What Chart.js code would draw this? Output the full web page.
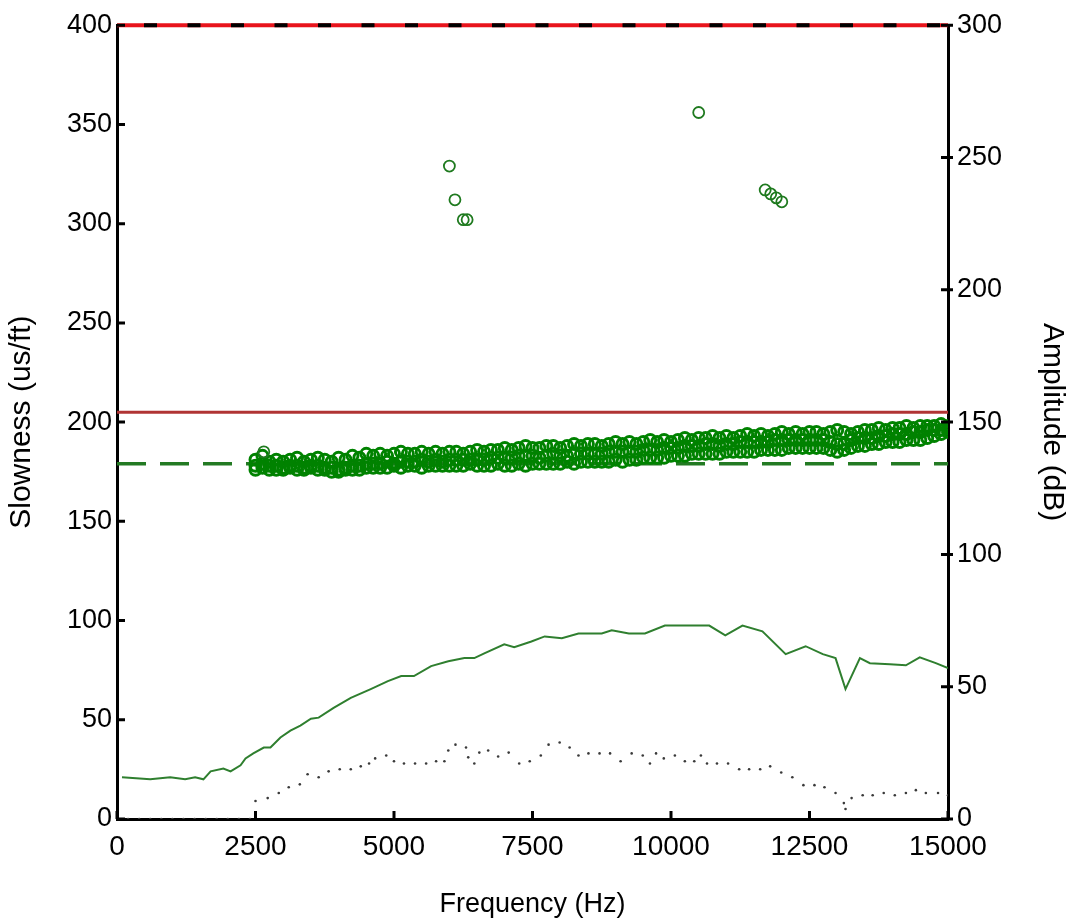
<!DOCTYPE html>
<html lang="en">
<head>
<meta charset="utf-8">
<title>Slowness dispersion</title>
<script src="https://cdn.jsdelivr.net/npm/chart.js"></script>
<style>
  body { margin: 0; background: #fff; }
  #wrap { width: 1074px; height: 921px; position: relative; }
</style>
</head>
<body>
<div id="wrap"><canvas id="dispChart"></canvas></div>
<script>
// axis ticks
const freqTicks = [0, 2500, 5000, 7500, 10000, 12500, 15000];
const slowTicks = [0, 50, 100, 150, 200, 250, 300, 350, 400];
const ampTicks = [0, 50, 100, 150, 200, 250, 300];

// horizontal reference lines (us/ft)
const topSlow = 400;
const fluidSlow = 205;
const shearSlow = 179;

// dispersion picks - dense band, three rows
const bandFreq = [2500, 2625, 2750, 2875, 3000, 3125, 3250, 3375, 3500, 3625, 3750, 3875, 4000, 4125, 4250, 4375, 4500,
  4625, 4750, 4875, 5000, 5125, 5250, 5375, 5500, 5625, 5750, 5875, 6000, 6125, 6250, 6375, 6500,
  6625, 6750, 6875, 7000, 7125, 7250, 7375, 7500, 7625, 7750, 7875, 8000, 8125, 8250, 8375, 8500,
  8625, 8750, 8875, 9000, 9125, 9250, 9375, 9500, 9625, 9750, 9875, 10000, 10125, 10250, 10375, 10500,
  10625, 10750, 10875, 11000, 11125, 11250, 11375, 11500, 11625, 11750, 11875, 12000, 12125, 12250, 12375, 12500,
  12625, 12750, 12875, 13000, 13125, 13250, 13375, 13500, 13625, 13750, 13875, 14000, 14125, 14250, 14375, 14500,
  14625, 14750, 14875, 15000];
const bandUpper = [181, 183, 180, 181, 180, 181, 182, 180, 181, 182, 181, 180, 182, 181, 183, 182, 184,
  183, 184, 183, 184, 185, 184, 184, 185, 184, 185, 184, 185, 185, 184, 185, 186,
  185, 186, 186, 187, 186, 187, 188, 187, 187, 188, 188, 187, 188, 189, 188, 189,
  189, 188, 189, 190, 189, 190, 189, 190, 191, 190, 191, 190, 191, 192, 191, 192,
  192, 193, 192, 193, 192, 193, 194, 193, 194, 193, 194, 195, 194, 195, 194, 195,
  195, 194, 195, 196, 195, 194, 195, 196, 196, 197, 196, 197, 197, 198, 197, 198,
  198, 198, 199, 198];
const bandMid = [178, 179, 178, 178, 177, 178, 178, 177, 178, 178, 177, 177, 176, 177, 178, 178, 179,
  179, 179, 180, 179, 180, 180, 180, 181, 180, 181, 180, 181, 181, 181, 181, 181,
  181, 182, 182, 182, 182, 183, 183, 183, 182, 183, 184, 183, 183, 184, 184, 184,
  184, 184, 185, 185, 185, 185, 185, 186, 186, 186, 187, 187, 187, 188, 188, 188,
  189, 189, 188, 189, 189, 190, 190, 190, 190, 190, 191, 191, 191, 191, 191, 191,
  191, 191, 190, 189, 189, 191, 192, 192, 192, 193, 193, 194, 194, 194, 195, 195,
  196, 196, 196, 197];
const bandLower = [176, 177, 176, 176, 176, 177, 176, 176, 177, 176, 176, 175, 175, 176, 176, 176, 177,
  177, 177, 177, 178, 177, 178, 178, 177, 178, 178, 178, 178, 178, 178, 179, 178,
  178, 178, 179, 178, 178, 179, 178, 179, 179, 179, 179, 179, 180, 179, 180, 180,
  180, 180, 180, 181, 180, 181, 181, 182, 182, 182, 182, 183, 183, 183, 184, 184,
  184, 184, 184, 185, 185, 185, 185, 185, 186, 186, 186, 186, 187, 187, 187, 187,
  187, 187, 186, 185, 186, 187, 188, 188, 189, 189, 190, 190, 190, 191, 191, 191,
  192, 193, 194, 195];

// stray picks
const strayFreq = [2650, 6000, 6100, 6250, 6320, 10500, 11700, 11800, 11900, 12000];
const straySlow = [185, 329, 312, 302, 302, 356, 317, 315, 313, 311];

// amplitude spectrum (dB)
const ampFreq = [90, 600, 960, 1230, 1410, 1560, 1690, 1920, 2050, 2230, 2320, 2460, 2650, 2770, 2950, 3130, 3310,
  3500, 3640, 3910, 4220, 4580, 4890, 5130, 5360, 5670, 5980, 6270, 6450, 6630, 6990, 7170, 7480, 7720,
  8030, 8330, 8750, 8930, 9240, 9530, 9890, 10690, 10980, 11290, 11650, 12070, 12430, 12740, 12970,
  13150, 13410, 13590, 13950, 14240, 14490, 14780, 15000];
const ampDb = [15.8, 15.0, 15.8, 15.0, 15.8, 15.0, 18.0, 19.1, 18.0, 20.3, 22.9, 24.8, 27.0, 27.0, 30.8, 33.4, 35.3,
  37.9, 38.3, 42.0, 45.8, 49.1, 52.1, 54.0, 54.0, 57.8, 59.6, 60.8, 60.8, 62.6, 66.0, 64.9, 67.1, 69.0,
  68.3, 70.1, 70.1, 71.3, 70.1, 70.1, 73.1, 73.1, 69.4, 73.1, 70.9, 62.3, 65.3, 62.3, 60.8,
  49.1, 60.8, 58.9, 58.5, 58.1, 61.1, 58.9, 57.0];

// noise spectrum (dB), dotted
const noiseFreq = [0, 200, 400, 600, 800, 1000, 1200, 1400, 1600, 1800, 2000, 2200, 2400,
  2500, 2720, 2920, 3100, 3300, 3440, 3640, 3820, 4020, 4220, 4400, 4550, 4660, 4860, 5000, 5180, 5380,
  5580, 5760, 5910, 5980, 6110, 6300, 6340, 6450, 6540, 6700, 6880, 7070, 7260, 7450, 7650, 7790, 7990,
  8170, 8330, 8510, 8710, 8900, 9090, 9290, 9490, 9620, 9730, 9870, 10070, 10250, 10420, 10540, 10650,
  10830, 11030, 11230, 11410, 11610, 11790, 11990, 12190, 12390, 12590, 12770, 12970, 13120, 13150,
  13260, 13460, 13640, 13840, 14040, 14240, 14420, 14600, 14820, 15000];
const noiseDb = [0, 0, 0, 0, 0, 0, 0, 0, 0, 0, 0, 0, 0,
  6.8, 7.9, 9.8, 12.0, 13.1, 16.9, 15.8, 18.0, 18.8, 18.8, 19.9, 21.0, 22.9, 24.0, 21.8, 21.0, 21.0,
  21.0, 21.8, 21.8, 25.9, 28.1, 27.0, 23.3, 21.0, 25.1, 25.9, 23.6, 25.1, 21.0, 21.8, 24.0, 28.1, 28.9,
  27.0, 24.0, 24.8, 24.8, 24.8, 21.8, 24.8, 24.0, 21.0, 24.8, 22.9, 24.0, 21.8, 21.8, 24.0, 21.0,
  21.0, 21.0, 18.8, 18.8, 18.8, 19.9, 17.6, 15.8, 12.8, 12.8, 12.0, 9.8, 6.0, 3.8,
  7.9, 9.0, 9.0, 9.8, 9.0, 9.8, 10.9, 9.8, 9.8, 9.0];

const FONT = 'Liberation Sans, Arial, sans-serif';
Chart.defaults.font.family = FONT;
Chart.defaults.color = '#000';

const pts = (xs, ys) => xs.map((x, i) => ({ x: x, y: ys[i] }));
const hline = (v) => [{ x: freqTicks[0], y: v }, { x: freqTicks[freqTicks.length - 1], y: v }];

const innerTicks = {
  id: 'innerTicks',
  afterDraw(chart) {
    const { ctx, chartArea: a, scales } = chart;
    ctx.save();
    ctx.strokeStyle = '#000';
    ctx.lineWidth = 3;
    ctx.beginPath();
    scales.x.ticks.forEach(t => {
      const px = scales.x.getPixelForValue(t.value);
      ctx.moveTo(px, a.bottom); ctx.lineTo(px, a.bottom - 8);
    });
    scales.y.ticks.forEach(t => {
      const py = scales.y.getPixelForValue(t.value);
      ctx.moveTo(a.left, py); ctx.lineTo(a.left + 8, py);
    });
    scales.y1.ticks.forEach(t => {
      const py = scales.y1.getPixelForValue(t.value);
      ctx.moveTo(a.right - 7, py); ctx.lineTo(a.right + 5, py);
    });
    ctx.stroke();
    ctx.restore();
  }
};

const setTicks = (arr) => (scale) => { scale.ticks = arr.map(v => ({ value: v })); };
const plainLabel = (v) => String(v);

new Chart(document.getElementById('dispChart'), {
  type: 'scatter',
  data: {
    datasets: [
      { data: hline(topSlow), showLine: true, borderColor: '#e8141c', borderWidth: 4, pointRadius: 0, clip: 10, order: 10 },
      { data: hline(topSlow), showLine: true, borderColor: '#000', borderWidth: 4, borderDash: [13, 30.5], borderDashOffset: 16.5, pointRadius: 0, clip: 10, order: 9 },
      { data: hline(fluidSlow), showLine: true, borderColor: '#b03434', borderWidth: 3, pointRadius: 0, order: 8 },
      { data: hline(shearSlow), showLine: true, borderColor: '#237a23', borderWidth: 3.5, borderDash: [29, 14], pointRadius: 0, order: 6 },
      { data: pts(ampFreq, ampDb), yAxisID: 'y1', showLine: true, borderColor: '#2f7f2f', borderWidth: 2, pointRadius: 0, order: 5 },
      { data: pts(noiseFreq, noiseDb), yAxisID: 'y1', showLine: false, pointRadius: 1.3, backgroundColor: '#3a3a3a', borderWidth: 0, order: 4 },
      { data: pts(bandFreq, bandUpper).concat(pts(bandFreq, bandMid), pts(bandFreq, bandLower)),
        pointStyle: 'circle', pointRadius: 5.5, borderWidth: 3, borderColor: 'rgb(0,130,0)', backgroundColor: 'rgba(0,0,0,0)', order: 2 },
      { data: pts(strayFreq, straySlow), pointStyle: 'circle', pointRadius: 5.5, borderWidth: 1.8, borderColor: '#1f7a1f', backgroundColor: 'rgba(0,0,0,0)', order: 1 }
    ]
  },
  options: {
    responsive: true,
    maintainAspectRatio: false,
    animation: false,
    layout: { padding: { top: 20, left: 0, right: 0, bottom: 0 } },
    plugins: { legend: { display: false }, tooltip: { enabled: false } },
    scales: {
      x: {
        type: 'linear', min: 0, max: 15000,
        afterBuildTicks: setTicks(freqTicks),
        afterFit: (s) => { s.height = 102; },
        grid: { drawOnChartArea: false, drawTicks: false },
        border: { color: '#000', width: 3 },
        ticks: { padding: 11, font: { size: 28 }, color: '#000', callback: plainLabel },
        title: { display: true, text: 'Frequency (Hz)', font: { size: 27 }, padding: { top: 0, bottom: 0 } }
      },
      y: {
        position: 'left', min: 0, max: 400,
        afterBuildTicks: setTicks(slowTicks),
        afterFit: (s) => { s.width = 117; },
        grid: { drawOnChartArea: false, drawTicks: false },
        border: { color: '#000', width: 3 },
        ticks: { padding: 5, font: { size: 27 }, color: '#000', callback: plainLabel },
        title: { display: true, text: 'Slowness (us/ft)', font: { size: 30 }, padding: { top: 4, bottom: 0 } }
      },
      y1: {
        position: 'right', min: 0, max: 300,
        afterBuildTicks: setTicks(ampTicks),
        afterFit: (s) => { s.width = 126; },
        grid: { drawOnChartArea: false, drawTicks: false },
        border: { color: '#000', width: 3 },
        ticks: { padding: 9, font: { size: 27 }, color: '#000', callback: plainLabel },
        title: { display: true, text: 'Amplitude (dB)', font: { size: 30 }, padding: { top: 4, bottom: 0 } }
      }
    }
  },
  plugins: [innerTicks]
});
</script>
</body>
</html>
